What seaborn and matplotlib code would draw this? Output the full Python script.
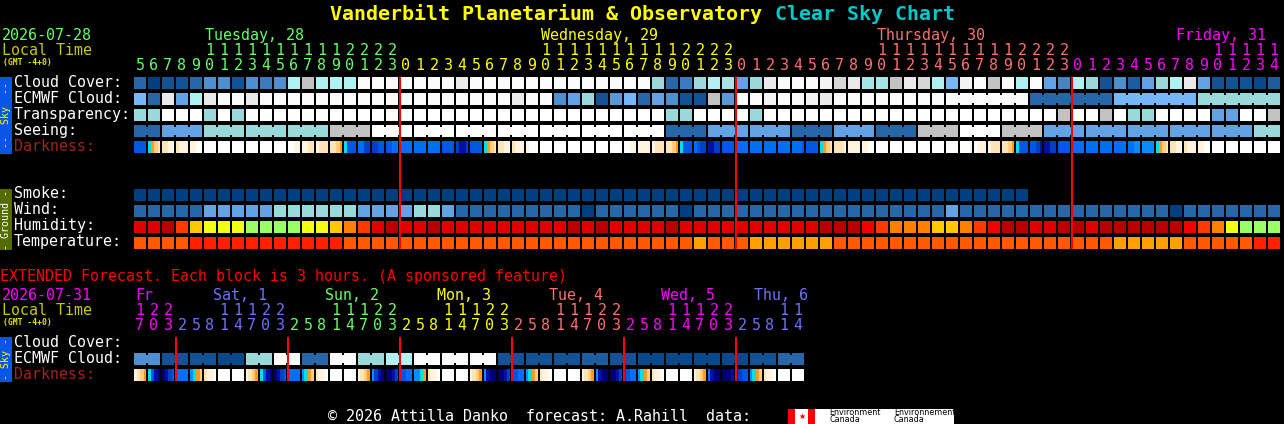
import numpy as np
import matplotlib
matplotlib.use("Agg")
import matplotlib.pyplot as plt
from matplotlib.colors import LinearSegmentedColormap, ListedColormap
from matplotlib.patches import Rectangle
import seaborn as sns

# hours along the top of each block
hours_main = list(range(5, 24)) + list(range(24)) + list(range(24)) + list(range(15))
hours_ext = [17, 20, 23] + [2, 5, 8, 11, 14, 17, 20, 23] * 5 + [2, 5, 8, 11, 14]

GREEN, YELLOW, SALMON, MAGENTA, BLUE = "#66ff66", "#ffff00", "#ff7070", "#ff00ff", "#7070ff"
days_main = ["Tuesday, 28", "Wednesday, 29", "Thursday, 30", "Friday, 31"]
day_colors_main = [GREEN, YELLOW, SALMON, MAGENTA]
days_ext = ["Fr", "Sat, 1", "Sun, 2", "Mon, 3", "Tue, 4", "Wed, 5", "Thu, 6"]
day_colors_ext = [MAGENTA, BLUE, GREEN, YELLOW, SALMON, MAGENTA, BLUE]

# sky scale: 0 = dark blue (clear) ... 12 = white (overcast / poor)
sky_colors = ["#003f7f", "#135393", "#2767a7", "#3b7bbb", "#4f8fcf", "#63a3e3", "#77b7f7",
              "#99d9d9", "#aef2f2", "#c2c2c2", "#eaeaea", "#fbfbfb", "#ffffff"]
humidity_colors = ["#b80000", "#e00000", "#f00000", "#ff3a00", "#ff8000", "#ffc800", "#f0ff14", "#99ff66"]
temp_colors = ["#ff2000", "#ff5a00", "#ffa000"]
dark_colors = ["#ffffff", "#fff4e0", "#ffe4b8", "#ffcc80", "#ff9a20", "#00e0e0",
               "#0a8cff", "#0070f0", "#0058e0", "#0040c8", "#0010a0", "#000070"]

cloud_cover = [2, 0, 1, 1, 2, 4, 4, 1, 4, 3, 4, 8, 9, 8, 8, 8, 11, 11, 11,
               11, 11, 11, 11, 10, 11, 11, 11, 11, 11, 11, 11, 11, 11, 11, 11, 11, 11,
               7, 2, 3, 7, 8, 7.5, 5, 7, 10, 11, 11, 11, 10.5, 9.5, 10,
               7.5, 7.5, 9, 10, 9.5, 8, 6, 10.5, 11, 9, 11, 8, 11, 5, 3.5,
               8, 7, 1, 4, 1.5, 5, 7, 8, 10, 5, 1, 1, 1, 0.5, 1.5]
ecmwf = [6, 2, 10, 5, 8, 10, 11, 11, 10, 11, 11, 11, 11, 11, 11, 11, 11, 11, 11,
         11, 11, 11, 11, 11, 11, 11, 11, 10, 11, 11, 4, 5, 7, 1, 4.5, 6, 2, 5, 4, 1, 1, 9, 4.5,
         11, 11, 10.5, 11, 11, 10.5, 10, 11, 11, 11, 11, 11, 11, 11, 11,
         11, 11, 11, 11, 11, 11, 2, 2, 2, 2, 2, 2, 6, 6, 6, 6, 6, 6, 7, 7, 7, 7, 7, 7]
ecmwf_blocks = [1] * 58 + [6, 6, 6, 6]
transparency = [7, 7, 12, 12, 12, 7, 12, 7,
                12, 12, 12, 12, 12, 12, 12, 12, 12, 12, 12, 12, 12, 12, 12,
                12, 12, 12, 12, 12, 12, 12, 12, 12, 12, 12, 12, 12, 12, 12,
                7, 7, 12, 12, 12, 12, 7,
                12, 12, 12, 12, 12, 12, 12, 12, 12, 12, 12, 12, 12, 12, 12, 12, 12, 12, 12, 12, 12,
                9, 12, 12, 9, 12, 7, 7, 12, 12, 12, 12, 5, 5, 12, 12, 9]
seeing_levels = [2, 5, 7, 7, 7, 9, 12, 12, 12, 12, 12, 12, 12, 2, 5, 5, 2, 5, 2, 9, 12, 9, 5, 5, 5, 5, 5, 7]
seeing_blocks = [2] + [3] * 26 + [2]
smoke = [0] * 64 + [np.nan] * 18
wind = [2, 2, 2, 2, 2, 5, 5, 5, 5, 5, 7, 7, 7, 7, 7, 7, 5, 5, 5, 5, 7, 7, 5,
        2, 2, 2, 2, 2, 2, 2, 2, 2, 0, 2, 2, 2, 2, 2, 2, 0,
        2, 2, 2, 2, 2, 2, 2, 2, 2, 2, 2, 2, 2, 2, 2, 2, 2, 2, 5,
        2, 2, 2, 2, 2, 2, 2, 2, 2, 2, 2, 2, 2, 2, 2, 0, 2, 2, 2, 2, 2, 2, 2]
humidity = [1, 1, 0, 3, 5, 6, 6, 6, 7, 7, 7, 7, 6, 6, 5, 4, 3, 1, 0, 1, 1, 0,
            1, 1, 1, 1, 1, 1, 1, 1, 1, 0, 1, 0, 1, 1, 1, 1, 0,
            1, 1, 1, 1, 1, 1, 1, 1, 1, 1, 0, 0, 0,
            2, 3, 4, 4, 4, 5, 5, 4, 3, 2, 0, 0, 1, 1, 0, 0, 1, 0, 0, 0, 0, 0, 0, 2, 3, 4, 6, 7, 7, 7]
temperature = [1, 1, 1, 1, 0, 0, 0, 0, 0, 0, 0, 0, 0, 0, 0,
               1, 1, 1, 1, 1, 1, 1, 1, 1, 1, 1, 1, 1, 1, 1, 1, 1, 1, 1, 1, 1, 1, 1, 1, 1,
               2, 1, 1, 1, 2, 2, 2, 2, 2, 2,
               1, 1, 1, 1, 1, 1, 1, 1, 1, 1, 1, 1, 1, 1, 1, 1, 1, 1, 1, 1,
               2, 2, 2, 2, 2, 1, 1, 1, 1, 1, 0, 0]
# darkness: four readings across each block, hex digit = step of dark_colors
darkness = ("8888 5432 2211 2111 1100 0000 0000 0000 0000 0000 0000 0011 1122 1222 2234 5888 7799 9988 8877 "
            "7777 7777 7777 8888 9AA9 8888 5432 2211 2111 1000 0000 0000 0000 0000 0000 0000 0011 1111 1222 2234 "
            "5888 7899 AA99 8888 7777 7777 7777 7777 7778 8888 5432 2221 1111 1100 0000 0000 0000 0000 0000 0000 "
            "0001 0111 1222 2234 5888 889A AA99 8888 7777 7777 7777 7777 7766 6666 5432 2211 2111 1100 "
            "0000 0000 0000 0000 0000").split()

ext_ecmwf = [4, 4, 1, 1, 1, 1, 0.5, 0.5, 7, 7, 11, 11, 2, 2, 11, 11, 7, 7, 8, 8, 11, 11, 11, 11, 11, 11,
             1, 1, 1, 1, 1, 1, 1.5, 1.5, 1, 1, 0.5, 0.5, 0.5, 0.5, 0.5, 0.5, 0.5, 0.5, 1, 1, 2, 2]
ext_blocks = [2] * 24
ext_darkness = ("1234 58AB BA98 7777 6543 2110 0000 0000 1234 58AB BA98 7777 6543 2110 0000 0000 "
                "1234 69AB BBA9 8877 6654 2110 0000 0000 1234 6ABB BBA9 8877 6543 2110 0000 0000 "
                "1234 6ABB BBA9 9877 6543 2110 0000 0000 1234 7ABB BBBA A988 6543 2110 0000 0000").split()

W, H = 1284, 424
X0, PITCH = 133, 14  # grid starts 1px left of the first block, the gridline eats it
PT = 72 / 100

plt.rcParams["font.family"] = "DejaVu Sans Mono"
fig = plt.figure(figsize=(W / 100, H / 100), dpi=100, facecolor="black")

sky_cmap = LinearSegmentedColormap.from_list("sky", sky_colors, N=25)
hum_cmap = ListedColormap(humidity_colors)
temp_cmap = ListedColormap(temp_colors)
dark_cmap = ListedColormap(dark_colors)


def row_axes(n, top, height):
    ax = fig.add_axes([X0 / W, 1 - (top + height) / H, n * PITCH / W, height / H])
    ax.set_facecolor("black")
    return ax


def draw_row(values, top, cmap=sky_cmap, vmin=0, vmax=12, blocks=None):
    values = np.array(values, dtype=float)
    ax = row_axes(len(values), top - 1, PITCH)
    sns.heatmap(values.reshape(1, -1), ax=ax, cmap=cmap, vmin=vmin, vmax=vmax, cbar=False,
                linewidths=2 * PT, linecolor="black", xticklabels=False, yticklabels=False)
    if blocks is not None:
        # blocks that belong together are bridged across the gap
        start = 0
        for size in blocks:
            for seam in range(start + 1, start + size):
                ax.hlines(0.5, seam - 1.5 / PITCH, seam + 1.5 / PITCH, lw=8 * PT, capstyle="butt",
                          color=cmap((values[seam] - vmin) / (vmax - vmin)))
            start += size
    return ax


def draw_darkness(cells, top):
    vals = np.array([[int(c, 16) for c in "".join(cells)]], dtype=float)
    ax = row_axes(len(cells), top, 12)
    sns.heatmap(vals, ax=ax, cmap=dark_cmap, vmin=-0.5, vmax=11.5, cbar=False,
                xticklabels=False, yticklabels=False)
    ax.vlines(np.arange(len(cells) + 1) * 4, 0, 1, color="black", lw=2 * PT)
    return ax


draw_row(cloud_cover, 77)
draw_row(ecmwf, 93, blocks=ecmwf_blocks)
draw_row(transparency, 109)
draw_row(np.repeat(seeing_levels, seeing_blocks), 125, blocks=seeing_blocks)
draw_darkness(darkness, 141)
draw_row(smoke, 189)
draw_row(wind, 205)
draw_row(humidity, 221, cmap=hum_cmap, vmin=-0.5, vmax=7.5)
draw_row(temperature, 237, cmap=temp_cmap, vmin=-0.5, vmax=2.5)
draw_row(ext_ecmwf, 353, blocks=ext_blocks)
draw_darkness(ext_darkness, 369)

# page overlay in pixels, for the text and midnight lines
page = fig.add_axes([0, 0, 1, 1], zorder=10)
page.set_xlim(0, W)
page.set_ylim(H, 0)
page.axis("off")


def label(x, y, s, color="white", size=15, **kw):
    page.text(x, y, s, color=color, fontsize=size * PT, va="baseline", **kw)


def hour_labels(hours, colors, y_tens, y_units):
    day = 0
    midnights = []
    for i, h in enumerate(hours):
        if i and h < hours[i - 1]:
            day += 1
            midnights.append(i)
        x = X0 + 1 + PITCH * i + 6
        if h >= 10:
            label(x, y_tens, str(h // 10), colors[day], ha="center")
        label(x, y_units, str(h % 10), colors[day], ha="center")
    return midnights


# title
label(330, 20, "Vanderbilt Planetarium & Observatory", "#ffff00", 20, fontweight="bold")
label(775, 20, "Clear Sky Chart", "#00c8c8", 20, fontweight="bold")

# main header
label(2, 40, "2026-07-28", GREEN)
label(2, 55, "Local Time", "#c8c800")
label(3, 65, "(GMT -4+0)", "#e6e600", 8, fontweight="bold")
for x, s, c in zip([205, 541, 877, 1176], days_main, day_colors_main):
    label(x, 40, s, c)
mid_main = hour_labels(hours_main, day_colors_main, 55, 70)

for top, s, c in [(77, "Cloud Cover:", "white"), (93, "ECMWF Cloud:", "white"), (109, "Transparency:", "white"),
                  (125, "Seeing:", "white"), (141, "Darkness:", "#a52020"), (188, "Smoke:", "white"),
                  (204, "Wind:", "white"), (220, "Humidity:", "white"), (236, "Temperature:", "white")]:
    label(14, top + 10, s, c)

# extended header
label(0, 281, "EXTENDED Forecast. Each block is 3 hours. (A sponsored feature)", "#ff0000")
label(2, 300, "2026-07-31", MAGENTA)
label(2, 315, "Local Time", "#c8c800")
label(3, 325, "(GMT -4+0)", "#e6e600", 8, fontweight="bold")
for x, s, c in zip([135, 213, 325, 437, 549, 661, 754], days_ext, day_colors_ext):
    label(x, 300, s, c)
mid_ext = hour_labels(hours_ext, day_colors_ext, 315, 330)
for top, s, c in [(337, "Cloud Cover:", "white"), (353, "ECMWF Cloud:", "white"), (369, "Darkness:", "#a52020")]:
    label(14, top + 10, s, c)

# midnight lines
page.vlines([X0 + 1 + PITCH * i for i in mid_main], 77, 249, color="#ff0000", lw=2 * PT)
page.vlines([X0 + 1 + PITCH * i for i in mid_ext], 337, 381, color="#ff0000", lw=2 * PT)

# side tabs
for y0, y1, c, tc, s in [(77, 154, "#0a55e6", "#ffff00", "--  Sky  --"),
                         (189, 250, "#556b00", "white", "- Ground -"),
                         (337, 382, "#0a55e6", "#ffff00", "- Sky -")]:
    page.add_patch(Rectangle((0, y0), 12, y1 - y0, color=c, lw=0))
    page.text(6, (y0 + y1) / 2, s, color=tc, fontsize=10 * PT, rotation=90, ha="center", va="center")

# footer
label(328, 421, "\u00a9 2026 Attilla Danko  forecast: A.Rahill  data:")
page.add_patch(Rectangle((788, 409), 27, 15, color="#ff0000", lw=0))
page.add_patch(Rectangle((795, 409), 13, 15, color="white", lw=0))
page.add_patch(Rectangle((815, 409), 139, 15, color="white", lw=0))
page.scatter([801.5], [416], marker="*", s=22, color="#ff0000", lw=0)
for x, a, b in [(829, "Environment", "Canada"), (894, "Environnement", "Canada")]:
    page.text(x, 415, a, color="black", fontsize=8 * PT, family="DejaVu Sans", va="baseline")
    page.text(x, 422, b, color="black", fontsize=8 * PT, family="DejaVu Sans", va="baseline")

fig.savefig("out.png", dpi=100, facecolor="black")
